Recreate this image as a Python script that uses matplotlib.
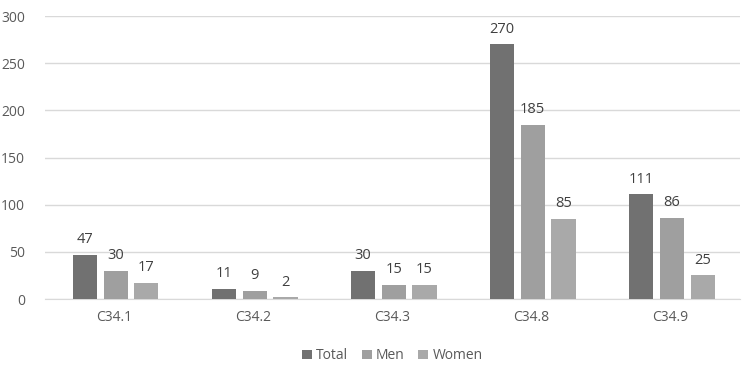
import matplotlib
matplotlib.use("Agg")
import matplotlib.pyplot as plt
import numpy as np

categories = ["C34.1", "C34.2", "C34.3", "C34.8", "C34.9"]
total = [47, 11, 30, 270, 111]
men = [30, 9, 15, 185, 86]
women = [17, 2, 15, 85, 25]

plt.rcParams["font.family"] = ["Open Sans", "DejaVu Sans"]

fig = plt.figure(figsize=(7.45, 3.66), dpi=100)
ax = fig.add_axes([0.060, 0.183, 0.933, 0.773])

x = np.arange(len(categories))
w = 0.173
step = 0.222
series = [("Total", total, "#717171"), ("Men", men, "#9f9f9f"), ("Women", women, "#a9a9a9")]
for i, (name, vals, col) in enumerate(series):
    pos = x + (i - 1) * step + 0.01
    ax.bar(pos, vals, width=w, color=col, label=name, zorder=3)
    for p, v in zip(pos, vals):
        ax.text(p, v + 8, str(v), ha="center", va="bottom", fontsize=10.5, color="#404040")

ax.set_xlim(-0.5, len(categories) - 0.5)
ax.set_ylim(0, 300)
ax.set_yticks(range(0, 301, 50))
ax.set_xticks(x)
ax.set_xticklabels(categories)
ax.tick_params(axis="both", length=0, labelsize=10, colors="#595959")
ax.tick_params(axis="x", pad=8)
ax.tick_params(axis="y", pad=14)
ax.grid(axis="y", color="#d9d9d9", linewidth=1, zorder=0)
for s in ["top", "right", "left"]:
    ax.spines[s].set_visible(False)
ax.spines["bottom"].set_color("#d9d9d9")

ax.legend(loc="upper center", bbox_to_anchor=(0.5, -0.13), ncol=3, frameon=False,
          fontsize=10, handlelength=0.7, handleheight=0.7, handletextpad=0.3,
          columnspacing=1.0, labelcolor="#595959")

plt.savefig("out.png", dpi=100)
